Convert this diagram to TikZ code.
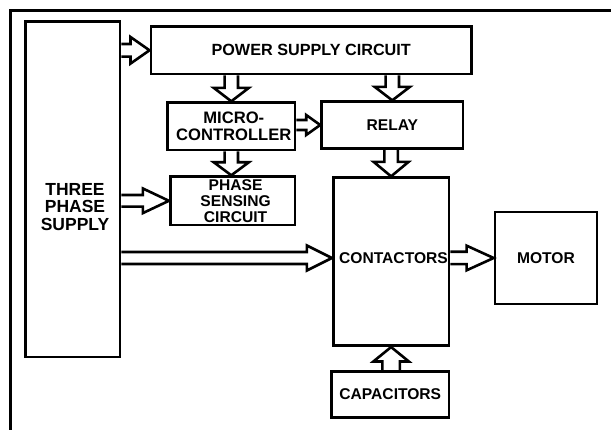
\documentclass[tikz,border=0pt]{standalone}
\usepackage{fontspec}
\setmainfont{Liberation Sans}
\usetikzlibrary{calc}
\tikzset{
  box/.style={draw, line width=2.7pt, rectangle, inner sep=0pt, align=center,
    font=\bfseries\fontsize{15.6}{15}\selectfont},
  txt/.style={inner sep=0pt, align=center, font=\bfseries\fontsize{15.6}{15}\selectfont},
  blk/.style={draw, line width=2.6pt, line join=miter, miter limit=10}
}
% horizontal block arrow: start, tip, shaft half, head half, head length
\newcommand\harr[5]{\draw[blk] ($(#1)+(0,-#3)$) -- ($(#2)+(-#5,-#3)$) -- ($(#2)+(-#5,-#4)$) -- (#2) -- ($(#2)+(-#5,#4)$) -- ($(#2)+(-#5,#3)$) -- ($(#1)+(0,#3)$);}
% vertical block arrow: start, tip, shaft half, head half, signed head length
\newcommand\varr[5]{\draw[blk] ($(#1)+(-#3,0)$) -- ($(#2)+(-#3,{-(#5)})$) -- ($(#2)+(-#4,{-(#5)})$) -- (#2) -- ($(#2)+(#4,{-(#5)})$) -- ($(#2)+(#3,{-(#5)})$) -- ($(#1)+(#3,0)$);}
\begin{document}
\begin{tikzpicture}[x=1pt,y=-1pt]
\useasboundingbox (0,0) rectangle (611,430);
% outer frame
\coordinate (f1) at (10.7,430);
\coordinate (f2) at (10.7,10.5);
\coordinate (f3) at (611,10.5);
\draw[line width=2.7pt] (f1) -- (f2) -- (f3);
% boxes
\node[box, minimum width=94.3pt, minimum height=335.3pt] (tps) at (72.9,189.4) {};
\node[txt, font=\bfseries\fontsize{17.5}{17.5}\selectfont] (tpst) at (75,207) {THREE\\PHASE\\SUPPLY};
\node[box, minimum width=320.7pt, minimum height=47.3pt, font=\bfseries\fontsize{16.2}{15}\selectfont] (psc) at (311.2,50.3) {POWER SUPPLY CIRCUIT};
\node[box, minimum width=127.4pt, minimum height=47.3pt, font=\bfseries\fontsize{16.6}{17}\selectfont] (mc) at (231.3,126.3) {\hspace*{5pt}MICRO-\\\hspace*{5pt}CONTROLLER};
\node[box, minimum width=141.5pt, minimum height=46.6pt] (rel) at (392.3,125) {RELAY};
\node[box, minimum width=124.7pt, minimum height=48.3pt, font=\bfseries\fontsize{15.6}{16}\selectfont] (ps) at (232.6,200.8) {\hspace*{6pt}PHASE\\\hspace*{6pt}SENSING\\\hspace*{6pt}CIRCUIT};
\node[box, minimum width=115.8pt, minimum height=168pt] (con) at (391.1,261.7) {};
\node[txt] (cont) at (393.5,257.7) {CONTACTORS};
\node[box, minimum width=102pt, minimum height=92pt] (mot) at (546,258) {MOTOR};
\node[box, minimum width=117.4pt, minimum height=45.6pt] (cap) at (390.3,394.5) {CAPACITORS};
% connectors
\harr{tps.east |- psc.west}{psc.west}{6.3}{13.3}{19}
\varr{psc.south -| mc.north}{mc.north}{6.7}{17.5}{13.4}
\varr{psc.south -| rel.north}{rel.north}{6.7}{17.5}{13.4}
\harr{mc.east |- rel.west}{rel.west}{5}{10}{14}
\varr{mc.south}{mc.south |- ps.north}{6.7}{17.5}{13}
\varr{rel.south -| con.north}{con.north}{6.7}{17.5}{14.5}
\harr{tps.east |- ps.west}{ps.west}{5.8}{12.3}{26}
\harr{tps.east |- mot.west}{con.west |- mot.west}{6}{12.5}{25}
\harr{con.east |- mot.west}{mot.west}{6.2}{12.3}{27}
\varr{cap.north -| con.south}{con.south}{8.8}{17.8}{-14.5}
\end{tikzpicture}
\end{document}
